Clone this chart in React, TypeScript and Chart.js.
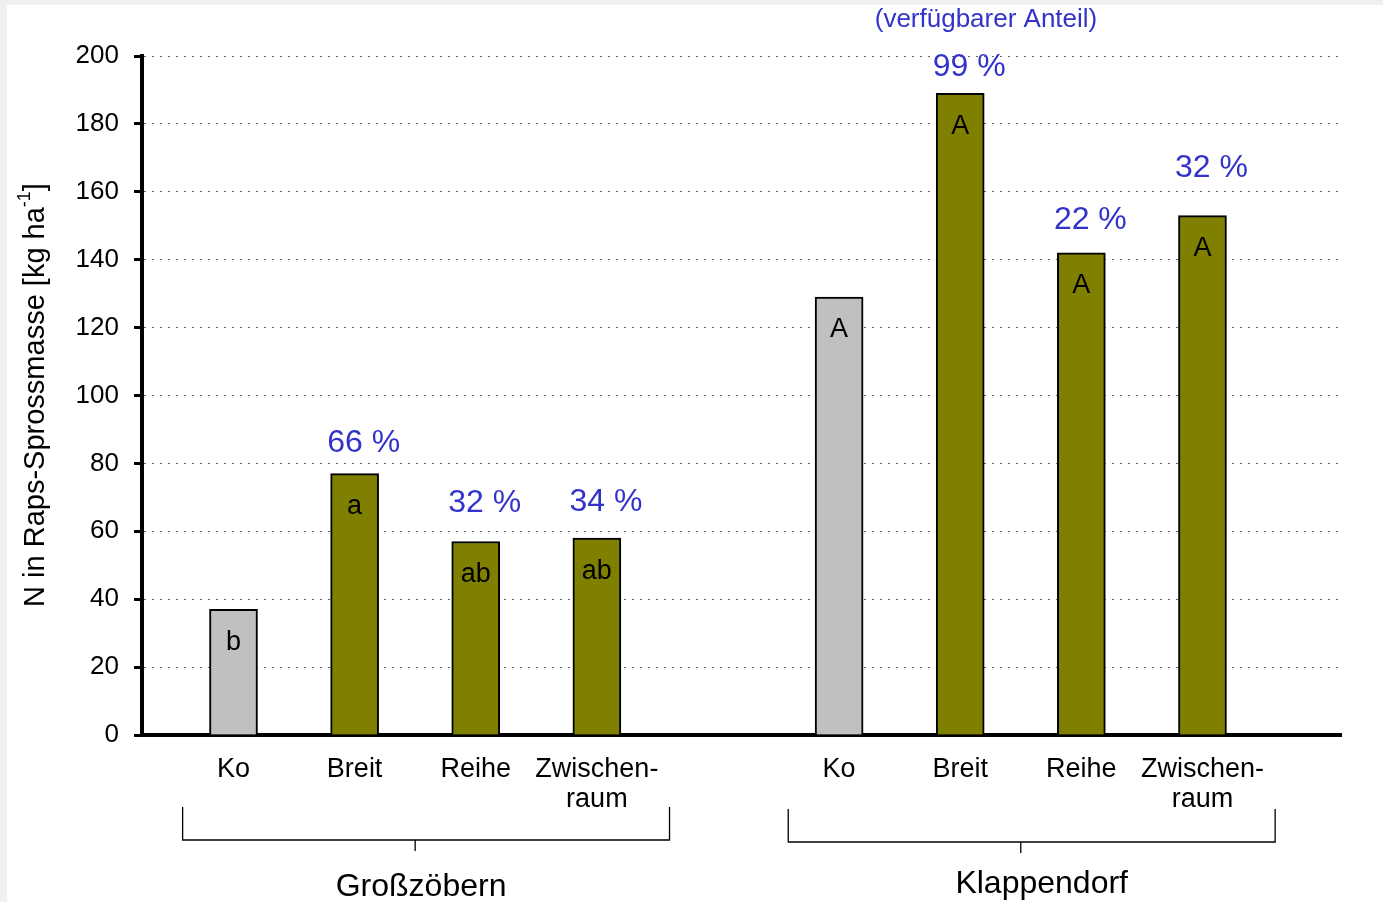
import React, { useEffect, useRef } from 'react';
import { Chart, registerables } from 'chart.js';

Chart.register(...registerables);

// ---- data ----
const groups = ['Großzöbern', 'Klappendorf'];
const treatments: string[][] = [['Ko'], ['Breit'], ['Reihe'], ['Zwischen-', 'raum']];
const grossValues = [37, 77, 57, 58];
const klappValues = [129, 189, 142, 153];
const grossLetters = ['b', 'a', 'ab', 'ab'];
const klappLetters = ['A', 'A', 'A', 'A'];
const grossShares = [null, '66 %', '32 %', '34 %'];
const klappShares = [null, '99 %', '22 %', '32 %'];
const yTickValues = [0, 20, 40, 60, 80, 100, 120, 140, 160, 180, 200];
const yTitleMain = 'N in Raps-Sprossmasse [kg ha';
const yTitleSup = '-1';
const yTitleEnd = ']';
const subtitle = '(verfügbarer Anteil)';

const groupValues = [grossValues, klappValues];
const groupLetters = [grossLetters, klappLetters];
const groupShares = [grossShares, klappShares];

const FONT = "'Liberation Sans', Arial, sans-serif";
const CONTROL = '#c0c0c0';
const OLIVE = '#808000';
const BLUE = '#3333cc';
// styling: pixel lift of each share label above its bar
const SHARE_LIFT = [0, 30, 38, 36, 0, 26, 33, 47];

const slot = treatments.length + 1;
const points: { x: number; y: number }[] = [];
const colors: string[] = [];
const letters: string[] = [];
const shares: (string | null)[] = [];
const tickLabels: Record<number, string[]> = {};
groupValues.forEach((vals, g) => {
  vals.forEach((v, i) => {
    const x = g * slot + i;
    points.push({ x, y: v });
    colors.push(i === 0 ? CONTROL : OLIVE);
    letters.push(groupLetters[g][i]);
    shares.push(groupShares[g][i]);
    tickLabels[x] = treatments[i];
  });
});

const annotate = {
  id: 'annotate',
  afterDraw(chart: any) {
    const { ctx } = chart;
    const xs = chart.scales.x;
    const meta = chart.getDatasetMeta(0);
    ctx.save();
    ctx.textAlign = 'center';
    ctx.textBaseline = 'middle';
    meta.data.forEach((bar: any, i: number) => {
      ctx.fillStyle = '#000';
      ctx.font = `27px ${FONT}`;
      ctx.fillText(letters[i], bar.x, bar.y + 33);
      if (shares[i]) {
        ctx.fillStyle = BLUE;
        ctx.font = `32px ${FONT}`;
        ctx.fillText(shares[i], bar.x + 9, bar.y - SHARE_LIFT[i]);
      }
    });
    // group brackets
    ctx.strokeStyle = '#000';
    ctx.lineWidth = 1.3;
    groups.forEach((name, g) => {
      const first = g * slot;
      const last = first + treatments.length - 1;
      const l = xs.getPixelForValue(first - 0.42);
      const r = xs.getPixelForValue(last + 0.6);
      const c = xs.getPixelForValue((first + last) / 2);
      const top = 802 + g * 2;
      const bot = 835 + g * 2;
      ctx.beginPath();
      ctx.moveTo(l, top);
      ctx.lineTo(l, bot);
      ctx.lineTo(r, bot);
      ctx.lineTo(r, top);
      ctx.moveTo(c, bot);
      ctx.lineTo(c, bot + 11);
      ctx.stroke();
      ctx.fillStyle = '#000';
      ctx.font = `32px ${FONT}`;
      ctx.fillText(name, (l + r) / 2 + (g === 0 ? -5 : 10), 882 - g * 3);
    });
    // subtitle
    ctx.fillStyle = BLUE;
    ctx.font = `26px ${FONT}`;
    ctx.fillText(subtitle, 979, 15);
    // y axis title with superscript
    ctx.fillStyle = '#000';
    ctx.translate(29, 390);
    ctx.rotate(-Math.PI / 2);
    ctx.textAlign = 'left';
    ctx.font = `29px ${FONT}`;
    const w1 = ctx.measureText(yTitleMain).width;
    const w3 = ctx.measureText(yTitleEnd).width;
    ctx.font = `18px ${FONT}`;
    const w2 = ctx.measureText(yTitleSup).width;
    const start = -(w1 + w2 + w3) / 2;
    ctx.font = `29px ${FONT}`;
    ctx.fillText(yTitleMain, start, 0);
    ctx.font = `18px ${FONT}`;
    ctx.fillText(yTitleSup, start + w1, -11);
    ctx.font = `29px ${FONT}`;
    ctx.fillText(yTitleEnd, start + w1 + w2, 0);
    ctx.restore();
  },
};

export default function App() {
  const ref = useRef<HTMLCanvasElement>(null);
  useEffect(() => {
    document.body.style.margin = '0';
    document.body.style.background = '#f0f0f0';
    const chart = new Chart(ref.current as HTMLCanvasElement, {
      type: 'bar',
      data: {
        datasets: [
          {
            data: points as any,
            backgroundColor: colors,
            borderColor: '#000',
            borderWidth: 2,
            barThickness: 48,
          },
        ],
      },
      options: {
        animation: false,
        responsive: false,
        layout: { padding: { top: 51, right: 42, left: 0, bottom: 0 } },
        plugins: { legend: { display: false }, tooltip: { enabled: false } },
        scales: {
          x: {
            type: 'linear',
            offset: false,
            min: -0.7554,
            max: 9.1437,
            z: 1,
            grid: { display: false, drawTicks: false, offset: false },
            border: { display: true, color: '#000', width: 4 },
            afterBuildTicks: (scale: any) => {
              scale.ticks = Object.keys(tickLabels).map((k) => ({ value: Number(k) }));
            },
            afterFit: (scale: any) => {
              scale.height = 167;
            },
            ticks: {
              autoSkip: false,
              maxRotation: 0,
              padding: 20,
              color: '#000',
              font: { family: FONT, size: 27, lineHeight: 1.1 },
              callback: (v: any) => tickLabels[v] || '',
            },
          },
          y: {
            min: 0,
            max: 200,
            afterBuildTicks: (scale: any) => {
              scale.ticks = yTickValues.map((v) => ({ value: v }));
            },
            afterFit: (scale: any) => {
              scale.width = 135;
            },
            grid: {
              color: '#666',
              lineWidth: 1,
              tickLength: 8,
              tickWidth: 3,
              tickColor: '#000',
              tickBorderDash: [],
            },
            border: { display: true, color: '#000', width: 4, dash: [2, 6] },
            ticks: {
              padding: 15,
              color: '#000',
              font: { family: FONT, size: 26 },
            },
          },
        },
      },
      plugins: [annotate],
    });
    return () => chart.destroy();
  }, []);
  return (
    <div
      style={{
        position: 'absolute',
        left: 7,
        top: 5,
        width: 1376,
        height: 897,
        background: '#fff',
      }}
    >
      <canvas ref={ref} width={1376} height={897} style={{ display: 'block' }} />
    </div>
  );
}
